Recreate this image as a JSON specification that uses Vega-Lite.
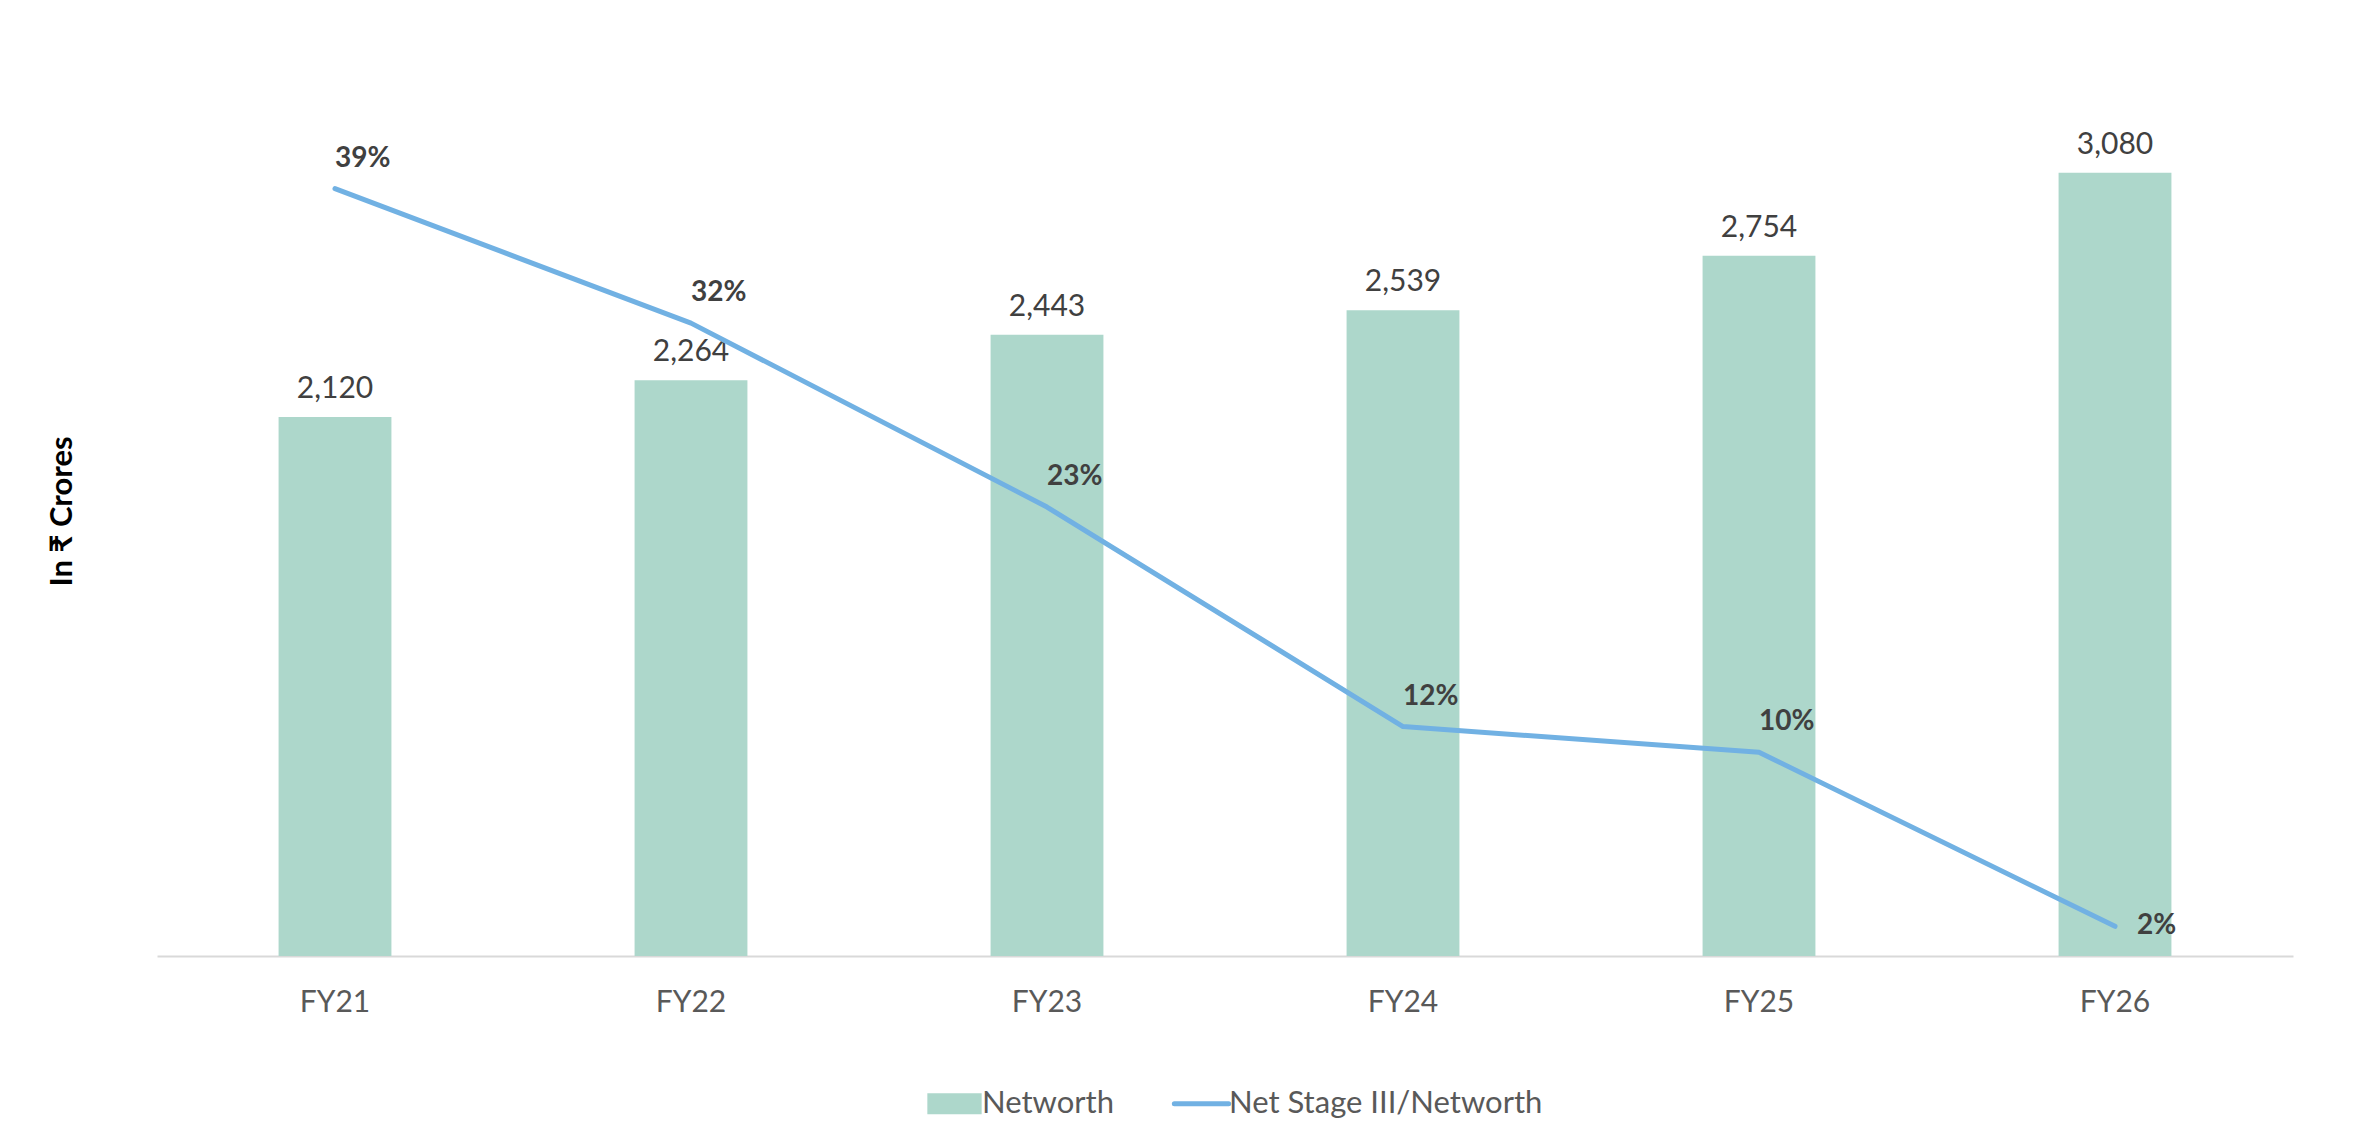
{
  "$schema": "https://vega.github.io/schema/vega-lite/v6.json",
  "width": 2136,
  "height": 890,
  "padding": {"left": 46, "top": 66, "right": 62, "bottom": 24},
  "background": "white",
  "config": {"view": {"stroke": null}, "font": "Lato"},
  "data": {
    "values": [
      {"year": "FY21", "networth": 2120, "ratio": 0.388},
      {"year": "FY22", "networth": 2264, "ratio": 0.32},
      {"year": "FY23", "networth": 2443, "ratio": 0.227},
      {"year": "FY24", "networth": 2539, "ratio": 0.116},
      {"year": "FY25", "networth": 2754, "ratio": 0.103},
      {"year": "FY26", "networth": 3080, "ratio": 0.015}
    ]
  },
  "encoding": {
    "x": {
      "field": "year",
      "type": "nominal",
      "sort": null,
      "scale": {"paddingInner": 0.683, "paddingOuter": 0.3415},
      "axis": {
        "title": null,
        "labelAngle": 0,
        "ticks": false,
        "labelPadding": 31,
        "labelFont": "Lato",
        "labelFontSize": 30,
        "labelColor": "#595959",
        "domainColor": "#D9D9D9",
        "domainWidth": 2
      }
    }
  },
  "layer": [
    {
      "encoding": {
        "y": {
          "field": "networth",
          "type": "quantitative",
          "scale": {"domain": [0, 3500]},
          "axis": {
            "title": "In ₹ Crores",
            "titleFont": "Lato",
            "titleFontSize": 31,
            "titleFontWeight": "bold",
            "titleColor": "#000000",
            "titlePadding": 79,
            "labels": false,
            "ticks": false,
            "domain": false,
            "grid": false
          }
        }
      },
      "layer": [
        {
          "mark": {"type": "bar"},
          "encoding": {
            "color": {
              "datum": "Networth",
              "type": "nominal",
              "scale": {
                "domain": ["Networth", "Net Stage III/Networth"],
                "range": ["#ADD7CB", "#71B1E3"]
              },
              "legend": {
                "orient": "none",
                "legendX": 782,
                "legendY": 1022,
                "direction": "horizontal",
                "title": null,
                "labelFont": "Lato",
                "labelFontSize": 31,
                "labelColor": "#595959",
                "labelOffset": 12,
                "labelLimit": 0,
                "columnPadding": 50,
                "symbolSize": 2950,
                "encode": {
                  "symbols": {
                    "update": {
                      "shape": {"signal": "datum.value === 'Networth' ? 'M-1,-0.39H1V0.39H-1Z' : 'stroke'"},
                      "fill": {"signal": "datum.value === 'Networth' ? '#ADD7CB' : 'transparent'"},
                      "stroke": {"signal": "datum.value === 'Networth' ? 'transparent' : '#71B1E3'"},
                      "strokeWidth": {"signal": "datum.value === 'Networth' ? 0 : 5"},
                      "strokeCap": {"value": "round"},
                      "opacity": {"value": 1}
                    }
                  }
                }
              }
            }
          }
        },
        {
          "mark": {
            "type": "text",
            "font": "Lato",
            "fontSize": 30,
            "color": "#404040",
            "baseline": "alphabetic",
            "dy": -19
          },
          "encoding": {
            "text": {"field": "networth", "type": "quantitative", "format": ","}
          }
        }
      ]
    },
    {
      "encoding": {
        "y": {
          "field": "ratio",
          "type": "quantitative",
          "scale": {"domain": [0, 0.45]},
          "axis": null
        }
      },
      "layer": [
        {
          "mark": {"type": "line", "strokeWidth": 5, "strokeCap": "round", "strokeJoin": "round"},
          "encoding": {
            "color": {"datum": "Net Stage III/Networth", "type": "nominal"}
          }
        },
        {
          "transform": [{"filter": "datum.year !== 'FY26'"}],
          "mark": {
            "type": "text",
            "font": "Lato",
            "fontSize": 28,
            "fontWeight": "bold",
            "color": "#404040",
            "align": "left",
            "baseline": "middle",
            "dx": 0,
            "dy": -30
          },
          "encoding": {
            "text": {"field": "ratio", "type": "quantitative", "format": ".0%"}
          }
        },
        {
          "transform": [{"filter": "datum.year === 'FY26'"}],
          "mark": {
            "type": "text",
            "font": "Lato",
            "fontSize": 28,
            "fontWeight": "bold",
            "color": "#404040",
            "align": "left",
            "baseline": "middle",
            "dx": 22,
            "dy": 0
          },
          "encoding": {
            "text": {"field": "ratio", "type": "quantitative", "format": ".0%"}
          }
        }
      ]
    }
  ],
  "resolve": {"scale": {"y": "independent"}}
}
